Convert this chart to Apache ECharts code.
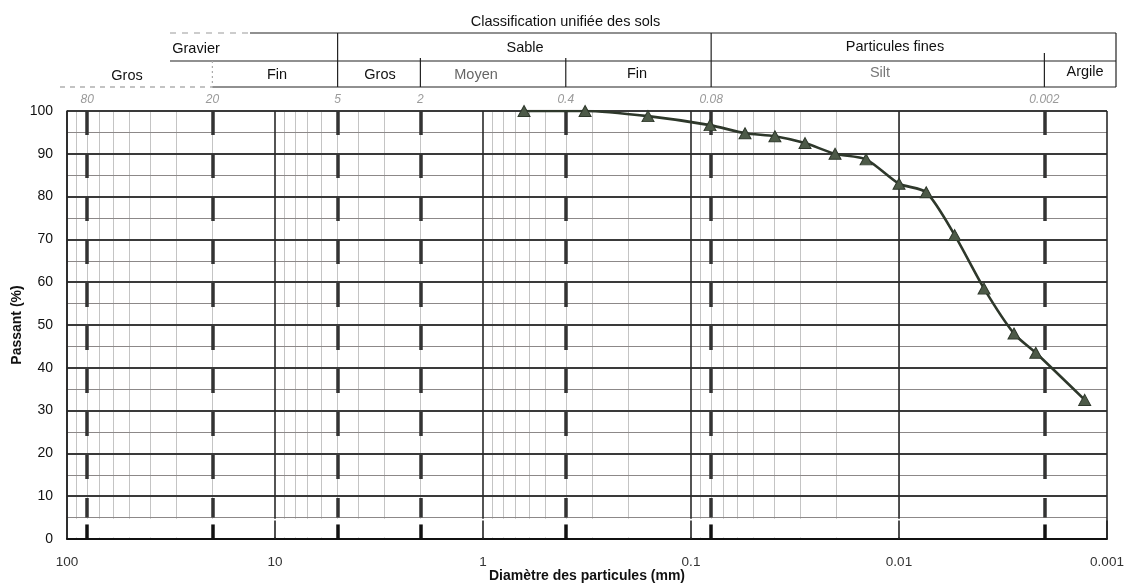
<!DOCTYPE html>
<html>
<head>
<meta charset="utf-8">
<script src="https://cdn.jsdelivr.net/npm/echarts@6/dist/echarts.min.js"></script>
<style>
  html, body { margin: 0; padding: 0; background: #ffffff; }
  #chart { width: 1131px; height: 584px; }
</style>
</head>
<body>
<div id="chart"></div>
<script>
// ---- Data ----
const diametre = [0.635, 0.323, 0.161, 0.081, 0.055, 0.0395, 0.0283, 0.0203, 0.0144, 0.0100, 0.0074, 0.0054, 0.0039, 0.0028, 0.0022, 0.00128];
const passant  = [100, 100, 98.8, 96.7, 94.8, 94.1, 92.5, 90.0, 88.7, 83.0, 81.0, 71.0, 58.5, 48.0, 43.5, 32.5];

// Class boundaries (dashed lines) and their labels
const limites = [80, 20, 5, 2, 0.4, 0.08, 0.002];
const limitesLabels = ['80', '20', '5', '2', '0.4', '0.08', '0.002'];

// Axis ticks
const decades = [100, 10, 1, 0.1, 0.01, 0.001];
const decadeLabels = ['100', '10', '1', '0.1', '0.01', '0.001'];
const minorMultipliers = [2, 3, 4, 5, 6, 7, 8, 9];

// Header table text
const titre = 'Classification unifiée des sols';
const row1 = ['Gravier', 'Sable', 'Particules fines'];
const row2 = ['Gros', 'Fin', 'Gros', 'Moyen', 'Fin', 'Silt', 'Argile'];

const FONT = '"Liberation Sans", Arial, Helvetica, sans-serif';

const chart = echarts.init(document.getElementById('chart'), null, { renderer: 'canvas' });

// minor vertical grid lines (2..9 within each decade)
const minorLines = [];
decades.slice(1).forEach(function (d) {
  minorMultipliers.forEach(function (m) {
    const v = +(m * d).toPrecision(3);
    if (v < 100) minorLines.push({ xAxis: v });
  });
});

function fmt(v) {
  const r = +(+v).toPrecision(3);
  const i = decades.indexOf(r);
  return i >= 0 ? decadeLabels[i] : '';
}

const option = {
  animation: false,
  backgroundColor: '#ffffff',
  textStyle: { fontFamily: FONT },
  title: {
    text: titre,
    left: 'center',
    top: 9,
    textStyle: { fontSize: 14.5, fontWeight: 'normal', color: '#111', fontFamily: FONT }
  },
  grid: { left: 67, right: 24, top: 111, bottom: 45, containLabel: false, outerBoundsMode: 'none' },
  xAxis: {
    type: 'log',
    logBase: 10,
    min: 0.001,
    max: 100,
    inverse: true,
    z: 1.5,
    name: 'Diamètre des particules (mm)',
    nameLocation: 'middle',
    nameGap: 30,
    nameMoveOverlap: false,
    nameTextStyle: { fontSize: 14, fontWeight: 'bold', color: '#111', fontFamily: FONT },
    axisLine: { show: true, onZero: false, lineStyle: { color: '#111', width: 2 } },
    axisTick: { show: false },
    axisLabel: { formatter: fmt, fontSize: 13.5, color: '#333', margin: 16, fontFamily: FONT },
    splitLine: { show: true, lineStyle: { color: '#2a2a2a', width: 1.6 } }
  },
  yAxis: {
    type: 'value',
    min: 0,
    max: 100,
    interval: 10,
    z: 1.5,
    name: 'Passant (%)',
    nameLocation: 'middle',
    nameGap: 43,
    nameMoveOverlap: false,
    nameRotate: 90,
    nameTextStyle: { fontSize: 14, fontWeight: 'bold', color: '#111', fontFamily: FONT },
    axisLine: { show: true, lineStyle: { color: '#222', width: 1.5 } },
    axisTick: { show: false },
    axisLabel: { fontSize: 14, color: '#111', margin: 14, fontFamily: FONT },
    splitLine: { show: true, lineStyle: { color: '#3a3a3a', width: 2 } },
    minorTick: { show: false, splitNumber: 2 },
    minorSplitLine: { show: true, lineStyle: { color: '#8c8888', width: 1 } }
  },
  series: [
    {
      name: 'minor-grid',
      type: 'line',
      data: [],
      silent: true,
      markLine: {
        z: 1,
        silent: true,
        symbol: ['none', 'none'],
        label: { show: false },
        lineStyle: { color: '#c4c4c4', width: 1, type: 'solid' },
        data: minorLines
      }
    },
    {
      name: 'limits',
      type: 'line',
      data: [],
      silent: true,
      markLine: {
        z: 6,
        silent: true,
        symbol: ['none', 'none'],
        lineStyle: { color: '#333', width: 3.5, type: [24, 19] },
        label: {
          show: true,
          position: 'start',
          formatter: '{b}',
          color: '#9a9a9a',
          fontStyle: 'italic',
          fontSize: 12,
          distance: 5,
          fontFamily: FONT
        },
        data: limites.map(function (v, i) {
          return [{ name: limitesLabels[i], coord: [v, 100] }, { coord: [v, 5] }];
        })
      }
    },
    {
      name: 'Passant',
      type: 'line',
      z: 8,
      data: diametre.map(function (d, i) { return [d, passant[i]]; }),
      smooth: 0.25,
      symbol: 'triangle',
      symbolSize: [12, 11],
      lineStyle: { color: '#2e382b', width: 2.6 },
      itemStyle: { color: '#4d5a48', borderColor: '#2e382b', borderWidth: 1 },
      markArea: {
        z: 4,
        silent: true,
        itemStyle: { color: '#ffffff', opacity: 1, borderWidth: 0 },
        data: [[{ xAxis: 97, yAxis: 0.35 }, { xAxis: 0.00103, yAxis: 4.75 }]]
      }
    },
    {
      name: 'bottom-ticks',
      type: 'line',
      data: [],
      silent: true,
      markLine: {
        z: 6,
        silent: true,
        symbol: ['none', 'none'],
        label: { show: false },
        data: limites.map(function (v) {
          return [{ coord: [v, 0], lineStyle: { color: '#111', width: 3.5, type: 'solid' } }, { coord: [v, 3.4] }];
        }).concat(decades.slice(1).map(function (v) {
          return [{ coord: [v, 0], lineStyle: { color: '#222', width: 1.6, type: 'solid' } }, { coord: [v, 4.3] }];
        }))
      }
    }
  ]
};

chart.setOption(option);

// ---- Header classification table (positions derived from axis scale) ----
function px(v) { return chart.convertToPixel({ xAxisIndex: 0 }, v); }
const xG = px(20), xS = px(5), xM = px(2), xF = px(0.4), xPF = px(0.08), xA = px(0.002);
const xRight = 1116, xLeftTop = 170, xLeftBottom = 60;
const yTop = 33, yMid = 61, yBot = 87;
const lineStyle = { stroke: '#222', lineWidth: 1.2 };
function ln(x1, y1, x2, y2, extra) {
  return { type: 'line', silent: true, shape: { x1: x1, y1: y1, x2: x2, y2: y2 }, style: Object.assign({}, lineStyle, extra || {}) };
}
function tx(t, x, y, color) {
  return {
    type: 'text', silent: true, x: x, y: y,
    style: { text: t, align: 'center', verticalAlign: 'middle', font: '14.5px ' + FONT, fill: color || '#111' }
  };
}
const graphics = [
  ln(xLeftTop, yTop, 250, yTop, { stroke: '#999', lineDash: [6, 6] }),
  ln(250, yTop, xRight, yTop),
  ln(xLeftTop, yMid, xRight, yMid),
  ln(xLeftBottom, yBot, xG, yBot, { stroke: '#888', lineDash: [5, 5] }),
  ln(xG, yBot, xRight, yBot),
  ln(xS, yTop, xS, yBot),
  ln(xPF, yTop, xPF, yBot),
  ln(xRight, yTop, xRight, yBot),
  ln(xG, yMid, xG, yBot, { stroke: '#aaa', lineDash: [2, 3] }),
  ln(xM, 58, xM, yBot),
  ln(xF, 58, xF, yBot),
  ln(xA, 53, xA, yBot),
  tx(row1[0], 196, 49),
  tx(row1[1], 525, 48),
  tx(row1[2], 895, 47),
  tx(row2[0], 127, 76),
  tx(row2[1], 277, 75),
  tx(row2[2], 380, 75),
  tx(row2[3], 476, 75, '#666'),
  tx(row2[4], 637, 74),
  tx(row2[5], 880, 73, '#777'),
  tx(row2[6], 1085, 72)
];
chart.setOption({ graphic: { elements: graphics } });
</script>
</body>
</html>
